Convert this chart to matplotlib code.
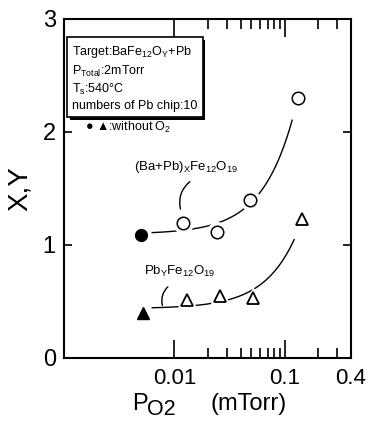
import matplotlib.pyplot as plt
import matplotlib.patheffects as pe
import numpy as np
from matplotlib.ticker import FixedLocator, NullFormatter

plt.rcParams['font.family'] = ['Liberation Sans', 'DejaVu Sans']
plt.rcParams['mathtext.fontset'] = 'custom'
plt.rcParams['mathtext.rm'] = 'Liberation Sans'
plt.rcParams['mathtext.it'] = 'Liberation Sans'

# --- data ---
p_x_without = [0.0050]
x_without = [1.09]
p_x = [0.0120, 0.0244, 0.0486, 0.132]
x_vals = [1.19, 1.115, 1.40, 2.30]

p_y_without = [0.0052]
y_without = [0.40]
p_y = [0.0130, 0.026, 0.052, 0.144]
y_vals = [0.51, 0.55, 0.53, 1.23]

xticks = [0.01, 0.1, 0.4]
xticklabels = ['0.01', '0.1', '0.4']
yticks = [0, 1, 2, 3]

fig = plt.figure(figsize=(3.75, 4.21), dpi=100)
ax = fig.add_axes([0.171, 0.150, 0.765, 0.805])


# hand-drawn guide curves: fit y = a + b*p^1.5 through each series
def guide(px, py, lo, hi):
    px = np.asarray(px)
    A = np.vstack([np.ones_like(px), px ** 1.5]).T
    a, b = np.linalg.lstsq(A, np.asarray(py), rcond=None)[0]
    xs = np.geomspace(lo, hi, 200)
    ax.plot(xs, a + b * xs ** 1.5, color='black', lw=1.0, zorder=1)


guide(p_x_without + p_x, x_without + x_vals, 0.0063, 0.117)
guide(p_y_without + p_y, y_without + y_vals, 0.0063, 0.122)

# white halos so the curves stop short of the symbols
ax.plot(p_x, x_vals, 'o', ms=14, color='white', zorder=2)
ax.plot(p_y, y_vals, '^', ms=15, color='white', zorder=2)
ax.plot(p_x, x_vals, 'o', ms=9, mfc='white', mec='black', mew=1.1, zorder=3)
ax.plot(p_x_without, x_without, 'o', ms=8.5, color='black', zorder=3)
ax.plot(p_y, y_vals, '^', ms=8, mfc='white', mec='black', mew=1.3, zorder=3)
ax.plot(p_y_without, y_without, '^', ms=8, color='black', zorder=3)

ax.set_xscale('log')
ax.set_xlim(0.001, 0.4)
ax.set_ylim(0, 3)

ax.xaxis.set_major_locator(FixedLocator(xticks))
ax.set_xticklabels(xticklabels)
minors = [k * 0.01 for k in range(2, 10)] + [0.2, 0.3]
ax.xaxis.set_minor_locator(FixedLocator(minors))
ax.xaxis.set_minor_formatter(NullFormatter())
ax.set_yticks(yticks)

ax.tick_params(axis='x', which='major', direction='in', top=True,
               length=13, width=1.2, labelsize=16, pad=7)
ax.tick_params(axis='x', which='minor', direction='in', top=True,
               length=7, width=1.2)
ax.tick_params(axis='y', which='major', direction='in', right=True,
               length=6, width=1.2, labelsize=17, pad=6)
for s in ax.spines.values():
    s.set_linewidth(1.5)

# axis titles
ax.set_ylabel('X,Y', fontsize=20)
ax.yaxis.set_label_coords(-0.108, 0.50)
fig.text(0.352, 0.026, 'P', fontsize=17, va='baseline', ha='left')
fig.text(0.392, 0.014, 'O2', fontsize=15.5, va='baseline', ha='left')
fig.text(0.560, 0.026, '(mTorr)', fontsize=17, va='baseline', ha='left')

# condition box with a drop shadow
box_txt = ('Target:BaFe$_{12}$O$_{\\mathrm{Y}}$+Pb\n'
           'P$_{\\mathrm{Total}}$:2mTorr\n'
           'T$_{\\mathrm{s}}$:540\u00b0C\n'
           'numbers of Pb chip:10')
t = ax.text(0.028, 0.925, box_txt, transform=ax.transAxes, fontsize=9,
            va='top', ha='left', linespacing=1.3,
            bbox=dict(boxstyle='square,pad=0.4', fc='white', ec='black', lw=1.2))
t.get_bbox_patch().set_path_effects([
    pe.SimplePatchShadow(offset=(2, -2), shadow_rgbFace='black', alpha=1.0),
    pe.Normal()])

ax.text(0.073, 0.681, '\u25cf \u25b2:without O$_2$', transform=ax.transAxes,
        fontsize=9, va='center', ha='left')

ax.text(0.425, 0.563, '(Ba+Pb)$_{\\mathrm{X}}$Fe$_{12}$O$_{19}$',
        transform=ax.transAxes, fontsize=9.5, ha='center', va='center')
ax.annotate('', xy=(0.408, 0.431), xytext=(0.446, 0.525),
            xycoords='axes fraction', textcoords='axes fraction',
            arrowprops=dict(arrowstyle='-', lw=1.0,
                            connectionstyle='arc3,rad=0.35'))

ax.text(0.404, 0.254, 'Pb$_{\\mathrm{Y}}$Fe$_{12}$O$_{19}$',
        transform=ax.transAxes, fontsize=9.5, ha='center', va='center')
ax.annotate('', xy=(0.345, 0.147), xytext=(0.369, 0.215),
            xycoords='axes fraction', textcoords='axes fraction',
            arrowprops=dict(arrowstyle='-', lw=1.0,
                            connectionstyle='arc3,rad=0.35'))

fig.savefig('out.png', dpi=100)
